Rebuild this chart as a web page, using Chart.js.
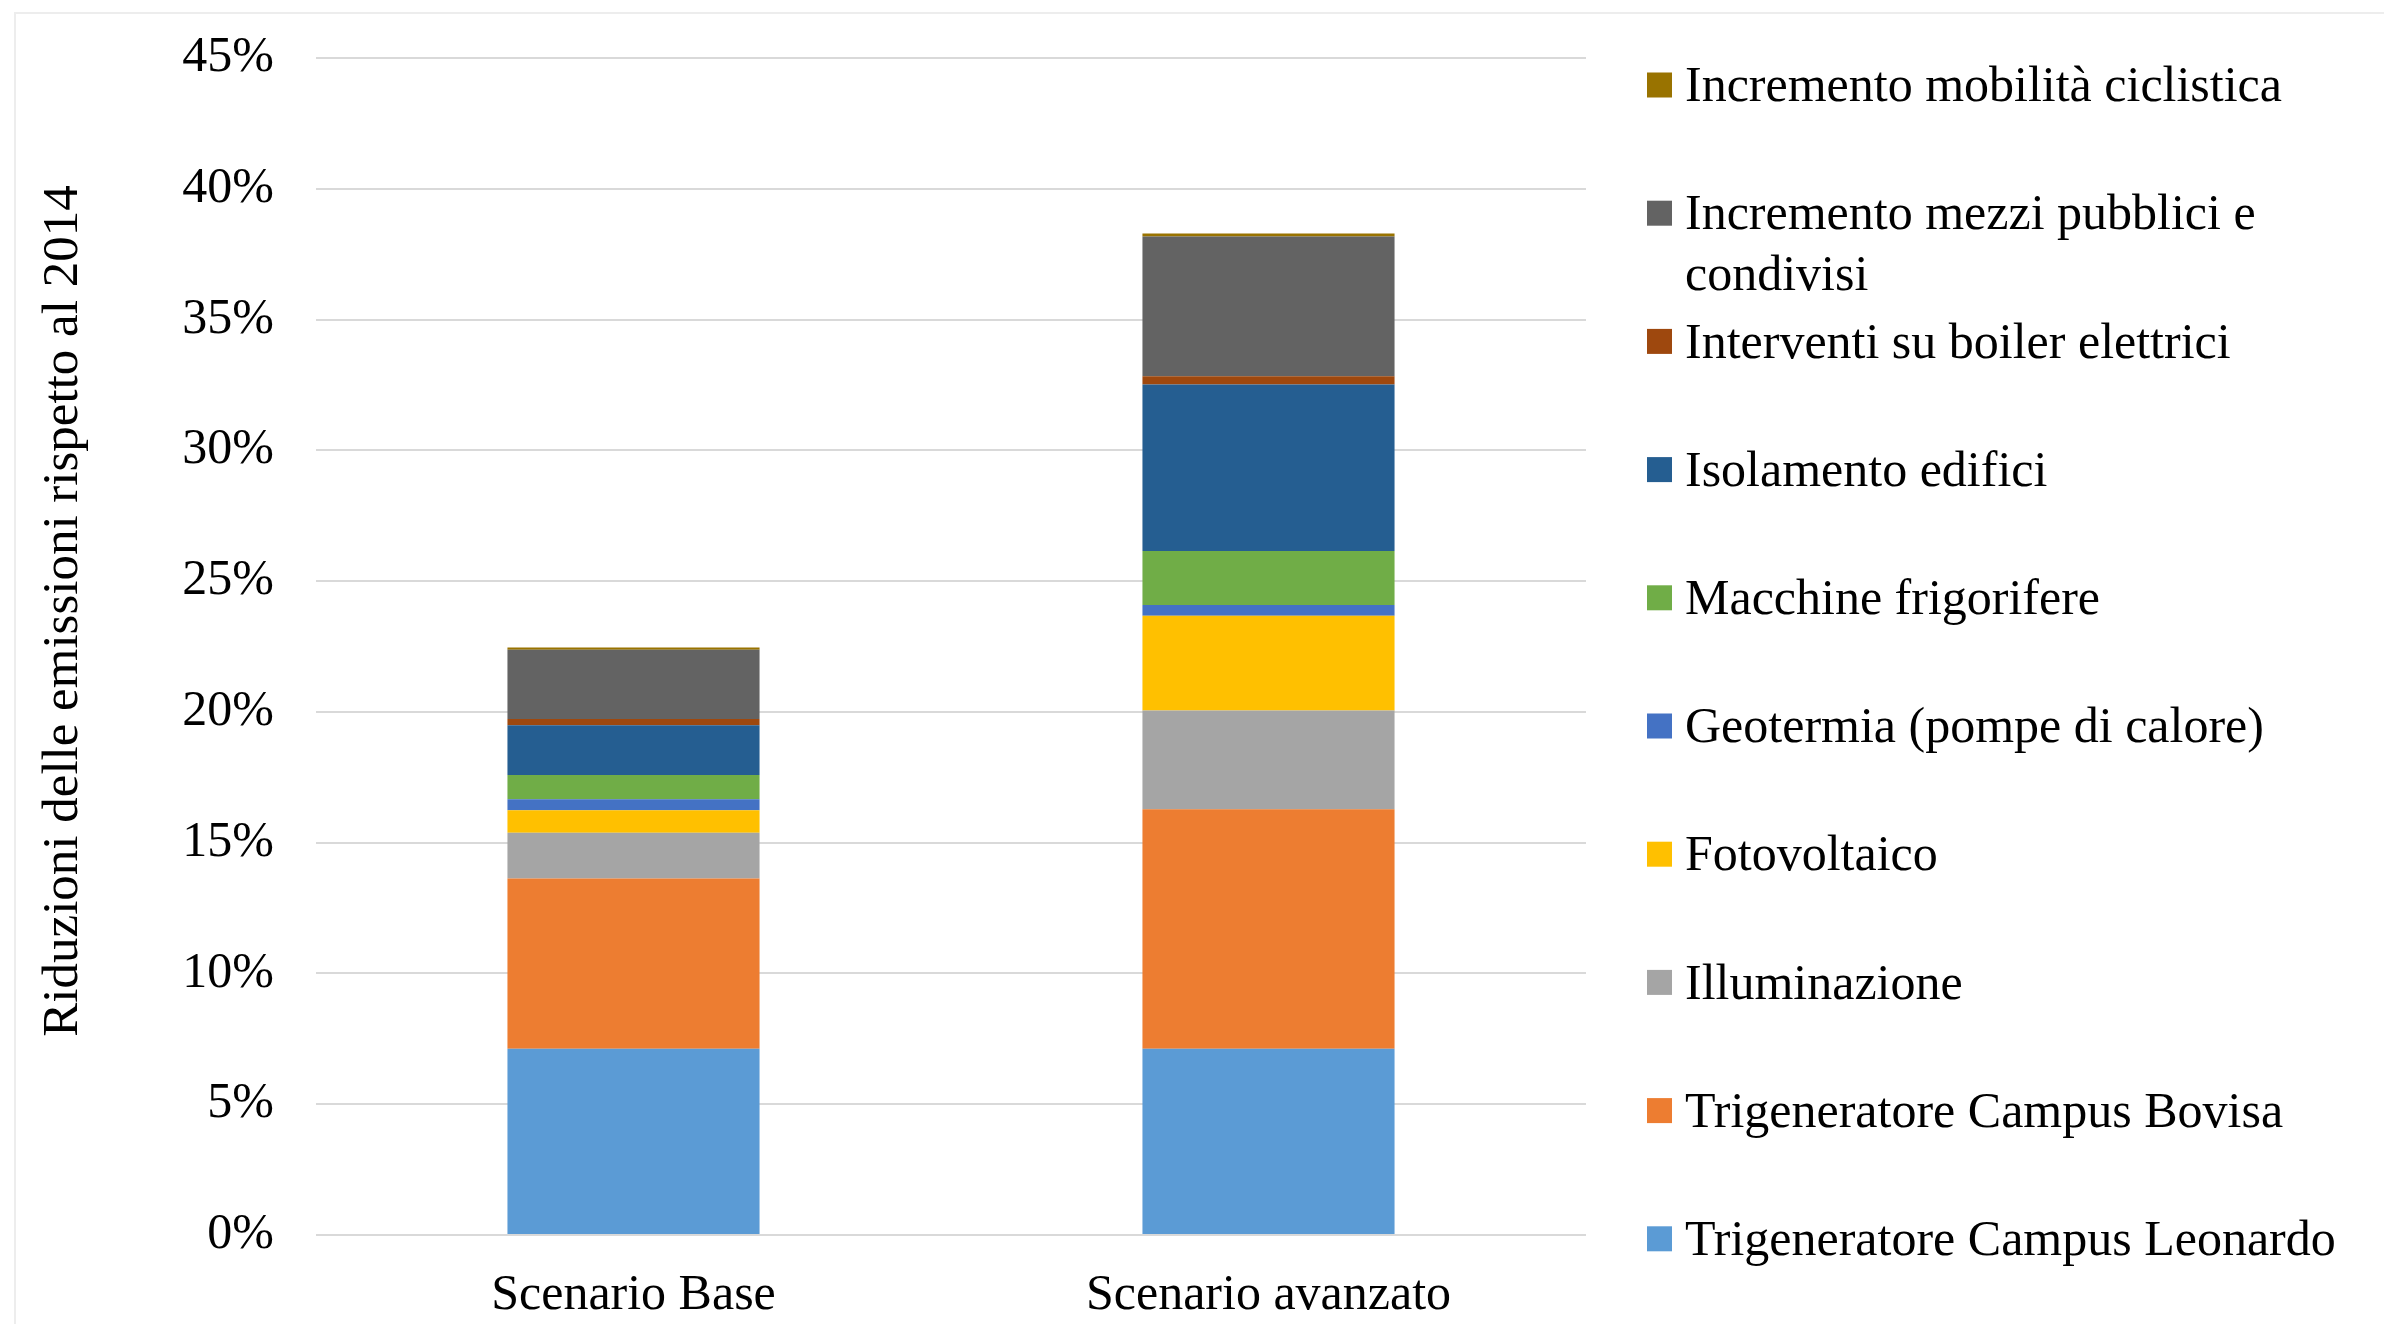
<!DOCTYPE html>
<html>
<head>
<meta charset="utf-8">
<script src="https://cdn.jsdelivr.net/npm/chart.js@4.4.0/dist/chart.umd.min.js"></script>
<style>
  html, body { margin: 0; padding: 0; background: #ffffff; }
  #wrap { position: relative; width: 2384px; height: 1324px; overflow: hidden; }
  #frame { position: absolute; left: 14px; top: 12px; width: 2420px; height: 1400px;
           border: 2px solid #ededed; box-sizing: border-box; }
  #c { position: absolute; left: 0; top: 0; }
</style>
</head>
<body>
<div id="wrap">
  <div id="frame"></div>
  <canvas id="c" width="2384" height="1324"></canvas>
</div>
<script>
// Scenarios on the x axis
const categories = ['Scenario Base', 'Scenario avanzato'];

// Emission reductions vs. 2014, in percent (stacked bottom to top)
const leonardo      = [7.12, 7.12];
const bovisa        = [6.51, 9.16];
const illuminazione = [1.75, 3.77];
const fotovoltaico  = [0.86, 3.63];
const geotermia     = [0.42, 0.41];
const frigorifere   = [0.93, 2.06];
const isolamento    = [1.90, 6.37];
const boiler        = [0.24, 0.31];
const mezzi         = [2.65, 5.35];
const ciclistica    = [0.08, 0.11];

// Y axis ticks
const yTicks = [0, 5, 10, 15, 20, 25, 30, 35, 40, 45];

const yTitle = 'Riduzioni delle emissioni rispetto al 2014';

const FONT = '"Liberation Serif", "Times New Roman", serif';

const datasets = [
  { label: 'Trigeneratore Campus Leonardo', data: leonardo, backgroundColor: '#5B9BD5' },
  { label: 'Trigeneratore Campus Bovisa', data: bovisa, backgroundColor: '#ED7D31' },
  { label: 'Illuminazione', data: illuminazione, backgroundColor: '#A5A5A5' },
  { label: 'Fotovoltaico', data: fotovoltaico, backgroundColor: '#FFC000' },
  { label: 'Geotermia (pompe di calore)', data: geotermia, backgroundColor: '#4472C4' },
  { label: 'Macchine frigorifere', data: frigorifere, backgroundColor: '#70AD47' },
  { label: 'Isolamento edifici', data: isolamento, backgroundColor: '#255E91' },
  { label: 'Interventi su boiler elettrici', data: boiler, backgroundColor: '#9E480E' },
  { label: 'Incremento mezzi pubblici e condivisi', legendLines: ['Incremento mezzi pubblici e', 'condivisi'], data: mezzi, backgroundColor: '#636363' },
  { label: 'Incremento mobilità ciclistica', data: ciclistica, backgroundColor: '#997300' }
].map(d => Object.assign({ barPercentage: 0.397, categoryPercentage: 1.0, borderWidth: 0 }, d));

// Legend column on the right (top entry = top of the stack) and the rotated y title
const sideLegend = {
  id: 'sideLegend',
  afterDraw(chart) {
    const ctx = chart.ctx;
    const items = chart.data.datasets.slice().reverse();
    const boxX = 1647, textX = 1685, firstY = 85, step = 128.2, box = 25, lineH = 61;
    ctx.save();
    ctx.font = '50px ' + FONT;
    ctx.textBaseline = 'middle';
    ctx.textAlign = 'left';
    items.forEach((d, i) => {
      const y = firstY + i * step;
      ctx.fillStyle = d.backgroundColor;
      ctx.fillRect(boxX, y - box / 2, box, box);
      ctx.fillStyle = '#000000';
      const lines = d.legendLines || [d.label];
      lines.forEach((t, k) => ctx.fillText(t, textX, y + 3 + k * lineH));
    });
    ctx.restore();

    // y axis title
    ctx.save();
    ctx.translate(64, 611);
    ctx.rotate(-Math.PI / 2);
    ctx.font = '51px ' + FONT;
    ctx.fillStyle = '#000000';
    ctx.textAlign = 'center';
    ctx.textBaseline = 'middle';
    ctx.fillText(yTitle, 0, 0);
    ctx.restore();
  }
};

new Chart(document.getElementById('c'), {
  type: 'bar',
  data: { labels: categories, datasets },
  options: {
    responsive: false,
    animation: false,
    devicePixelRatio: 1,
    layout: { padding: { left: 15, top: 58, right: 798, bottom: 0 } },
    plugins: { legend: { display: false }, tooltip: { enabled: false } },
    scales: {
      x: {
        stacked: true,
        grid: { display: false, drawTicks: false },
        border: { display: false },
        ticks: { color: '#000', font: { family: FONT, size: 50 }, padding: 31 },
        afterFit: s => { s.height = 1324 - 1235; s.paddingLeft = 0; s.paddingRight = 0; }
      },
      y: {
        stacked: true,
        min: 0,
        max: 45,
        afterBuildTicks: s => { s.ticks = yTicks.map(v => ({ value: v })); },
        grid: { color: '#d9d9d9', lineWidth: 2, drawTicks: false },
        border: { display: false },
        ticks: { color: '#000', font: { family: FONT, size: 50 }, padding: 42,
                 callback: v => v + '%' },
        afterFit: s => { s.width = 316 - 15; s.paddingTop = 0; s.paddingBottom = 0; }
      }
    }
  },
  plugins: [sideLegend]
});
</script>
</body>
</html>
